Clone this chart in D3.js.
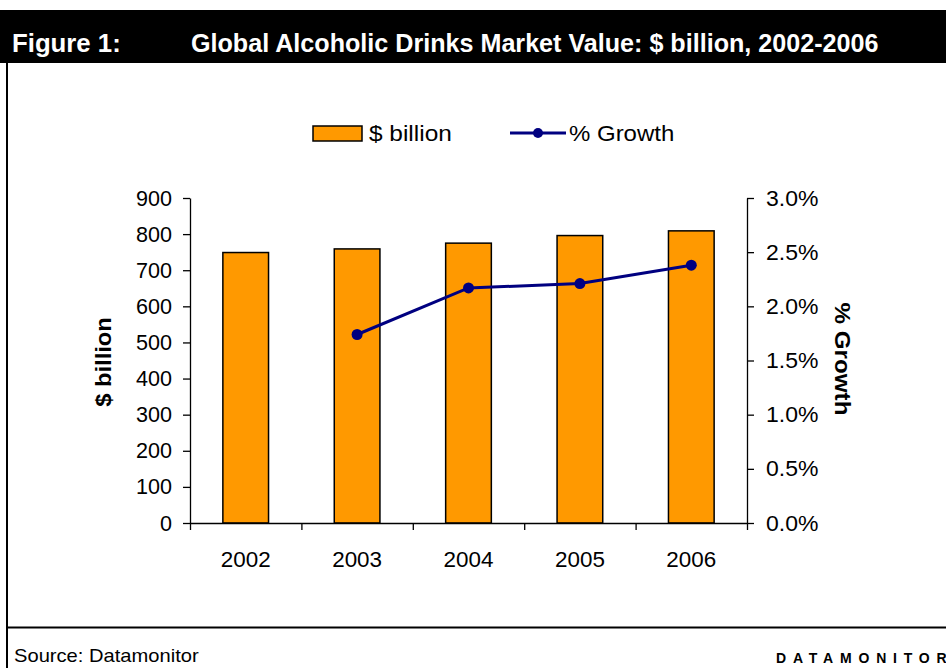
<!DOCTYPE html>
<html>
<head>
<meta charset="utf-8">
<script src="https://cdn.jsdelivr.net/npm/d3@7"></script>
<style>
  body { margin: 0; background: #fff; }
  svg { display: block; font-family: "Liberation Sans", Arial, sans-serif; }
  .axis path, .axis line { stroke: #000; stroke-width: 1.3; }
  .axis text { font-size: 22px; fill: #000; }
</style>
</head>
<body>
<div id="chart"></div>
<script>
var years = ["2002", "2003", "2004", "2005", "2006"];
var billions = [749, 759, 775, 796, 809];
var growthYears = ["2003", "2004", "2005", "2006"];
var growth = [1.74, 2.17, 2.21, 2.38];
var leftTicks = [0, 100, 200, 300, 400, 500, 600, 700, 800, 900];
var rightTicks = [0, 0.5, 1.0, 1.5, 2.0, 2.5, 3.0];

var width = 946, height = 668;
var plotLeft = 190, plotRight = 747, plotTop = 198, plotBottom = 523;

// the reference text is drawn a bit wide, so stretch it sideways
var stretch = function (sel, k) {
    sel.each(function () {
        var w = this.getComputedTextLength();
        d3.select(this).attr('textLength', w * k).attr('lengthAdjust', 'spacingAndGlyphs');
    });
};

var svg = d3.select('#chart').append('svg')
    .attr('width', width)
    .attr('height', height);

// title bar
svg.append('rect')
    .attr('x', 0).attr('y', 10)
    .attr('width', width).attr('height', 53)
    .attr('fill', '#000');
svg.append('text')
    .attr('x', 12).attr('y', 52)
    .attr('fill', '#fff')
    .style('font-size', '25px').style('font-weight', 'bold')
    .text('Figure 1:')
    .call(stretch, 1.03);
svg.append('text')
    .attr('x', 191).attr('y', 52)
    .attr('fill', '#fff')
    .style('font-size', '25px').style('font-weight', 'bold')
    .text('Global Alcoholic Drinks Market Value: $ billion, 2002-2006')
    .call(stretch, 1.005);

// frame lines
svg.append('line')
    .attr('x1', 7).attr('x2', 7).attr('y1', 63).attr('y2', height)
    .attr('stroke', '#000').attr('stroke-width', 2);
svg.append('line')
    .attr('x1', 7).attr('x2', width).attr('y1', 627.5).attr('y2', 627.5)
    .attr('stroke', '#000').attr('stroke-width', 2);

svg.append('text')
    .attr('x', 14).attr('y', 662)
    .style('font-size', '19px')
    .text('Source: Datamonitor')
    .call(stretch, 1.06);
svg.append('text')
    .attr('x', 776).attr('y', 663)
    .style('font-size', '14px').style('font-weight', 'bold')
    .style('letter-spacing', '6.8px')
    .text('DATAMONITOR');

// scales
var x = d3.scaleBand()
    .domain(years)
    .range([plotLeft, plotRight])
    .paddingInner(0.59)
    .paddingOuter(0.295);
var xCat = d3.scaleLinear().domain([0, years.length]).range([plotLeft, plotRight]);
var y = d3.scaleLinear().domain([0, 900]).range([plotBottom, plotTop]);
var y2 = d3.scaleLinear().domain([0, 3.0]).range([plotBottom, plotTop]);

// bars
svg.append('g').selectAll('rect')
    .data(years)
    .enter().append('rect')
    .attr('x', function (d) { return x(d); })
    .attr('y', function (d, i) { return y(billions[i]); })
    .attr('width', x.bandwidth())
    .attr('height', function (d, i) { return plotBottom - y(billions[i]); })
    .attr('fill', '#ff9900')
    .attr('stroke', '#000')
    .attr('stroke-width', 1.5);

// axes
var yl = svg.append('g')
    .attr('class', 'axis')
    .attr('transform', 'translate(' + plotLeft + ',0)')
    .call(d3.axisLeft(y).tickValues(leftTicks).tickSize(7).tickSizeOuter(0).tickPadding(11));
yl.selectAll('text').call(stretch, 0.98);

var yr = svg.append('g')
    .attr('class', 'axis')
    .attr('transform', 'translate(' + plotRight + ',0)')
    .call(d3.axisRight(y2).tickValues(rightTicks).tickSize(7).tickSizeOuter(0).tickPadding(12)
        .tickFormat(function (d) { return d.toFixed(1) + '%'; }));
yr.selectAll('text').call(stretch, 1.045);

svg.append('g')
    .attr('class', 'axis')
    .attr('transform', 'translate(0,' + plotBottom + ')')
    .call(d3.axisBottom(xCat).tickValues(d3.range(years.length + 1)).tickSize(7).tickSizeOuter(0).tickFormat(''));

var xl = svg.append('g')
    .attr('class', 'axis')
    .attr('transform', 'translate(0,' + plotBottom + ')')
    .call(d3.axisBottom(x).tickSize(0).tickPadding(28));
xl.select('.domain').remove();
xl.selectAll('text').call(stretch, 1.02);

// growth line
var line = d3.line()
    .x(function (d) { return x(d) + x.bandwidth() / 2; })
    .y(function (d, i) { return y2(growth[i]); });

svg.append('path')
    .datum(growthYears)
    .attr('d', line)
    .attr('fill', 'none')
    .attr('stroke', '#000080')
    .attr('stroke-width', 3);

svg.append('g').selectAll('circle')
    .data(growthYears)
    .enter().append('circle')
    .attr('cx', function (d) { return x(d) + x.bandwidth() / 2; })
    .attr('cy', function (d, i) { return y2(growth[i]); })
    .attr('r', 5.5)
    .attr('fill', '#000080');

// axis titles
svg.append('text')
    .attr('transform', 'translate(111,362) rotate(-90)')
    .attr('text-anchor', 'middle')
    .style('font-size', '22px').style('font-weight', 'bold')
    .text('$ billion')
    .call(stretch, 1.08);
svg.append('text')
    .attr('transform', 'translate(835,359) rotate(90)')
    .attr('text-anchor', 'middle')
    .style('font-size', '22px').style('font-weight', 'bold')
    .text('% Growth')
    .call(stretch, 1.1);

// legend
var lg = svg.append('g');
lg.append('rect')
    .attr('x', 313).attr('y', 126)
    .attr('width', 49).attr('height', 15)
    .attr('fill', '#ff9900').attr('stroke', '#000').attr('stroke-width', 1.5);
lg.append('text')
    .attr('x', 369).attr('y', 141)
    .style('font-size', '22px')
    .text('$ billion')
    .call(stretch, 1.11);
lg.append('line')
    .attr('x1', 510).attr('x2', 566).attr('y1', 133).attr('y2', 133)
    .attr('stroke', '#000080').attr('stroke-width', 3);
lg.append('circle')
    .attr('cx', 538).attr('cy', 133).attr('r', 5)
    .attr('fill', '#000080');
lg.append('text')
    .attr('x', 569).attr('y', 141)
    .style('font-size', '22px')
    .text('% Growth')
    .call(stretch, 1.09);
</script>
</body>
</html>
